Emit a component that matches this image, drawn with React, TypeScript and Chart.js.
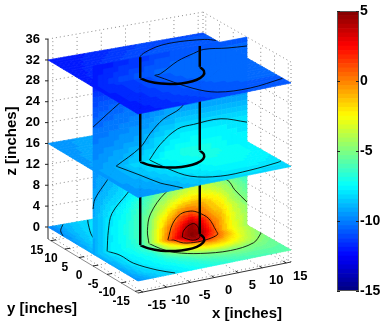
import React, { useEffect, useRef } from "react";
import { Chart, registerables } from "chart.js";

Chart.register(...registerables);

// ---------- data ----------
const xTicks = [-15, -10, -5, 0, 5, 10, 15];
const yTicks = [15, 10, 5, 0, -5, -10, -15];
const zTicks = [0, 4, 8, 12, 16, 20, 24, 28, 32, 36];
const colorTicks = [-15, -10, -5, 0, 5];
const xTitle = "x [inches]";
const yTitle = "y [inches]";
const zTitle = "z [inches]";

// grid coordinates of the sampled field (plane edges are at +-15 grid units = +-16 inches)
const fineX = [-15, -12, -9, -6, -4, -2, 0, 2, 4, 6, 8, 10, 12, 15];
const fineY = [15, 7.5, 0, -2, -4, -6, -9, -12, -15];
const fineZ = [0, 2, 4, 6, 8, 10, 12, 16, 20, 24, 28, 32, 36];
const coarseX = [-15, -10, -5, 0, 5, 10, 15];
const coarseY = [15, 7.5, 0, -5, -10, -15];

const planeZ0 = [
  [-9.9, -9, -8.4, -8.1, -7.9, -7.7, -7.5, -7.3, -7.2, -7.2, -7.3, -7.4, -7.5, -7.7],
  [-9.6, -8.6, -7.9, -7.2, -6.5, -5.5, -4.5, -3.5, -3, -3, -3.5, -4, -4.5, -5.3],
  [-9.2, -7.9, -7.4, -6.6, -5, -2.2, 0.9, 3.4, 4.9, 4.3, 1.7, -0.7, -2.6, -4.3],
  [-9.2, -8, -7.4, -6.6, -5.2, -3, -1, 2, 4.3, 2, 0.5, -1.2, -3, -4.5],
  [-9.2, -8.1, -7.5, -6.8, -5.3, -3.7, -2.9, -1.5, -0.5, -0.3, -1, -2.2, -3.5, -4.8],
  [-9.3, -8.1, -7.6, -7, -5.8, -4.7, -3.7, -2.8, -2.2, -2.1, -2.5, -3.2, -4, -5.1],
  [-9.4, -8.2, -7.7, -7.2, -6.8, -6.3, -5.6, -5.1, -4.8, -4.7, -4.7, -4.9, -5.1, -5.5],
  [-9.5, -8.5, -8, -7.6, -7.2, -6.9, -6.5, -6.2, -5.9, -5.7, -5.6, -5.6, -5.6, -5.7],
  [-9.7, -9, -8.3, -7.8, -7.5, -7.2, -7, -6.8, -6.6, -6.4, -6.2, -6.1, -6, -5.8],
];
const planeZ16 = [
  [-9.7, -9.4, -9.1, -8.8, -8.6, -8.6, -8.7],
  [-9.6, -9.1, -8.3, -7.8, -7.5, -7.6, -8],
  [-9.5, -8.9, -7.8, -7.3, -7, -7.2, -7.7],
  [-9.5, -8.9, -8.2, -7.6, -7.2, -7.3, -7.7],
  [-9.5, -9.2, -8.6, -8, -7.7, -7.7, -7.9],
  [-9.7, -9.5, -9, -8.6, -8.3, -8.3, -8.4],
];
const planeZ32 = [
  [-12.2, -12, -11.7, -11.4, -11.1, -11, -11],
  [-12.1, -11.7, -11.2, -10.8, -10.6, -10.5, -10.5],
  [-12, -11.5, -11, -10.6, -10.5, -10.5, -10.5],
  [-12, -11.6, -11.1, -10.7, -10.5, -10.5, -10.5],
  [-12.1, -11.7, -11.3, -10.9, -10.7, -10.6, -10.6],
  [-12.2, -11.9, -11.6, -11.3, -11, -10.9, -10.9],
];
const wallY0 = [
  [-9.2, -7.9, -7.4, -6.6, -5, -2.2, 0.9, 3.4, 4.9, 4.3, 1.7, -0.7, -2.6, -4.3],
  [-9.2, -8, -7.3, -6.2, -5, -2.4, 0.2, 2.3, 4.6, 3.2, 0.7, -1, -2.8, -4.4],
  [-9.1, -8, -7.2, -6.2, -5, -2.8, -1.1, 0.7, 1.5, 0.4, -0.9, -1.6, -3.2, -4.8],
  [-9.1, -8, -7.4, -6.3, -5.3, -3.8, -2.5, -1.5, -1, -1, -1.7, -2.6, -4.2, -5.5],
  [-9.2, -8.2, -7.7, -6.6, -5.9, -4.8, -4.1, -3.4, -2.9, -2.9, -3.3, -3.9, -4.7, -6],
  [-9.2, -8.6, -8.1, -7.2, -6.6, -5.9, -5.1, -4.6, -4.1, -4, -4.3, -5, -5.7, -6.7],
  [-9.4, -8.9, -8.3, -7.6, -7.1, -6.5, -5.9, -5.5, -5.1, -5.1, -5.3, -5.8, -6.4, -7.2],
  [-9.5, -9.2, -8.8, -8.3, -8, -7.7, -7.3, -7.1, -7, -7, -7.1, -7.3, -7.5, -7.7],
  [-9.9, -9.7, -9.4, -9.2, -8.9, -8.4, -8.1, -7.9, -7.8, -7.8, -7.8, -7.8, -7.9, -8],
  [-10.3, -10.2, -10, -9.8, -9.6, -9.4, -9.2, -9.2, -9.1, -9, -9, -9, -9, -9.1],
  [-10.9, -10.7, -10.5, -10.4, -10.3, -10.2, -10.1, -10.1, -10, -10, -10, -10, -10, -10.1],
  [-11.9, -11.5, -11.1, -10.8, -10.6, -10.5, -10.4, -10.3, -10.3, -10.3, -10.3, -10.3, -10.3, -10.3],
  [-12.2, -12, -11.7, -11.5, -11.3, -11.1, -11, -10.9, -10.8, -10.7, -10.7, -10.7, -10.7, -10.7],
];

// contour lines: [x, y] on the planes, [x, z] on the wall
const contoursZ0 = [
  [[-12.2, 0], [-11.3, -2.7], [-11.3, -7.1], [-9.5, -12], [-7.6, -14.8]],
  [[-12.2, 0], [-10.75, 7.5], [-8.2, 13.3], [-7.3, 15]],
  [[-12.1, 15], [-14, 12.5], [-15, 10]],
  [[-4.1, 0], [-3.7, -3.15], [-2.5, -6.07], [0.93, -8.6], [6.06, -9.9], [11.4, -8.5], [14.9, -4.9], [15, -4.5]],
  [[-0.4, 0], [0.4, -0.5], [1.1, -2.6], [3.4, -3.35], [5.76, -3], [8.3, -1.7], [9, 0]],
  [[2.4, 0], [2.9, -1.9], [3.7, -2.3], [4.9, -1.5], [5.8, 0]],
];
const contoursZ16 = [
  [[-10.5, 0], [-9.2, -5.8], [-8.2, -10.8], [-7.3, -12.5], [-6.1, -14.8]],
  [[-4, 0], [-3.5, -5.2], [-2.1, -10.4], [2.3, -13], [8.1, -13], [14.2, -12], [15, -11.6]],
];
const contoursZ32 = [
  [[-3, 0], [-0.6, -8.8], [2, -12.5], [7.8, -13.6], [14.9, -12.2], [15, -12]],
  [[-3, 0], [-1, 8.5], [3.1, 11.8], [7.8, 13], [13.6, 11.9], [15, 10.5]],
];
const contoursWallLow = [
  [[-12.25, 0], [-12, 4], [-11.3, 7.1], [-8.3, 10.4], [-6, 13], [-4, 16]],
  [[-15, 8.6], [-14.6, 10.5], [-12.25, 13.6], [-10.5, 16]],
  [[-4.1, 0], [-4.4, 2.5], [-3.8, 5.6], [-0.9, 9.1], [4, 11.5], [8, 11], [11.3, 9.2], [12.6, 7.2], [15, 4.4]],
  [[-0.4, 0], [0.5, 2.9], [2.06, 4.5], [4, 4.7], [5.4, 4.2], [7.55, 2.6], [9, 0]],
  [[2.4, 0], [2.6, 1.1], [3.4, 1.9], [4.6, 2.2], [5.4, 1.5], [5.8, 0]],
];
const contoursWallMid = [
  [[-4, 16], [-1.86, 18.6], [1.47, 20.9], [4.6, 21.2], [9.9, 21.3], [15, 19.7]],
  [[-10.5, 16], [-5.8, 18.7], [-3.8, 21.1], [-1.3, 23.3], [2.06, 24.8], [5, 28], [10, 31]],
  [[-15, 24.3], [-9.9, 27.9], [-5, 31], [-3, 32]],
];
const contoursWallTop = [
  [[-3, 32], [-1.86, 32.1], [1.47, 33.9], [4.6, 34.8], [6.6, 35.2], [11.3, 34.6], [15, 34.3]],
];
const thickArc = [
  [-5.8, 0], [-5.4, -2.1], [-4.1, -4.1], [-2.1, -5.4], [0, -5.8],
  [2.1, -5.4], [4.1, -4.1], [5.4, -2.1], [5.8, 0],
];
const thickWallX = [-5.8, 5.8];

// ---------- helpers ----------
const GRID_PER_INCH = 15 / 16;
const EDGE = 15;
const FLOOR = -2.3;
const TOP = 36;
const C_MIN = -15;
const C_MAX = 5;
const LEVELS = 64;

function project(x: number, y: number, z: number) {
  const X = (x + EDGE) / 30;
  const Y = (y + EDGE) / 30;
  return {
    x: 5.1 * x - 3 * y + 169.5 + 2 * X * Y,
    y: -1.033 * x - 1.8 * y - 5.22 * z + 238.5 + 4 * X * Y,
  };
}
const clamp01 = (v: number) => Math.max(0, Math.min(1, v));
function jet(level: number) {
  const t = (level + 0.5) / LEVELS;
  const c = (k: number) => Math.round(255 * clamp01(1.5 - Math.abs(4 * t - k)));
  return `rgb(${c(3)},${c(2)},${c(1)})`;
}
function levelOf(v: number) {
  return Math.max(0, Math.min(LEVELS - 1, Math.floor(((v - C_MIN) / (C_MAX - C_MIN)) * LEVELS)));
}
function locate(nodes: number[], v: number) {
  const asc = nodes[0] < nodes[nodes.length - 1];
  for (let i = 0; i < nodes.length - 1; i++) {
    const a = nodes[i];
    const b = nodes[i + 1];
    if (asc ? v <= b : v >= b) return { i, f: (v - a) / (b - a) };
  }
  return { i: nodes.length - 2, f: 1 };
}
function sample(table: number[][], cols: number[], rows: number[], c: number, r: number) {
  const p = locate(cols, c);
  const q = locate(rows, r);
  const t0 = table[q.i][p.i] * (1 - p.f) + table[q.i][p.i + 1] * p.f;
  const t1 = table[q.i + 1][p.i] * (1 - p.f) + table[q.i + 1][p.i + 1] * p.f;
  return t0 * (1 - q.f) + t1 * q.f;
}

const GAP = { x: NaN, y: NaN };
const base = {
  showLine: true,
  pointRadius: 0,
  pointHoverRadius: 0,
  clip: false,
  tension: 0,
  borderDash: [9999, 0],
};

function polyline(pts: { x: number; y: number }[], color: string, width: number, dash?: number[], tension = 0) {
  return { ...base, data: pts, borderColor: color, borderWidth: width, fill: false, borderDash: dash || [9999, 0], tension };
}

// filled patch: cells are grouped by colour level, one dataset per level
function patch(
  table: number[][],
  cols: number[],
  rows: number[],
  aFrom: number,
  aTo: number,
  bFrom: number,
  bTo: number,
  step: number,
  to3d: (a: number, b: number) => [number, number, number],
) {
  const groups = new Map<number, { x: number; y: number }[]>();
  const na = Math.round((aTo - aFrom) / step);
  const nb = Math.round((bTo - bFrom) / step);
  for (let i = 0; i < na; i++) {
    for (let j = 0; j < nb; j++) {
      const a0 = aFrom + i * step;
      const a1 = a0 + step;
      const b0 = bFrom + j * step;
      const b1 = b0 + step;
      const lvl = levelOf(sample(table, cols, rows, (a0 + a1) / 2, (b0 + b1) / 2));
      if (!groups.has(lvl)) groups.set(lvl, []);
      const g = groups.get(lvl)!;
      const corner = (a: number, b: number) => project(...to3d(a, b));
      g.push(corner(a0, b0), corner(a1, b0), corner(a1, b1), corner(a0, b1), corner(a0, b0), GAP);
    }
  }
  return [...groups.entries()].map(([lvl, pts]) => ({
    ...base,
    data: pts,
    fill: "shape",
    backgroundColor: jet(lvl),
    borderColor: jet(lvl),
    borderWidth: 0.7,
  }));
}

function buildDatasets() {
  const ds: any[] = [];
  const GRID = "#8a8a8a";
  const dots = [1, 3];

  // walls and floor grid
  const tickX = xTicks.map((t) => t * GRID_PER_INCH);
  const tickY = yTicks.map((t) => t * GRID_PER_INCH);
  const grid: { x: number; y: number }[] = [];
  const seg = (a: [number, number, number], b: [number, number, number]) => {
    grid.push(project(...a), project(...b), GAP);
  };
  zTicks.forEach((z) => {
    seg([-EDGE, EDGE, z], [EDGE, EDGE, z]);
    seg([EDGE, EDGE, z], [EDGE, -EDGE, z]);
  });
  tickX.forEach((x) => {
    seg([x, EDGE, FLOOR], [x, EDGE, TOP]);
    seg([x, EDGE, FLOOR], [x, -EDGE, FLOOR]);
  });
  tickY.forEach((y) => {
    seg([EDGE, y, FLOOR], [EDGE, y, TOP]);
    seg([-EDGE, y, FLOOR], [EDGE, y, FLOOR]);
  });
  seg([EDGE, EDGE, FLOOR], [EDGE, EDGE, TOP]);
  seg([EDGE, -EDGE, FLOOR], [EDGE, -EDGE, TOP]);
  seg([-EDGE, EDGE, FLOOR], [EDGE, EDGE, FLOOR]);
  seg([EDGE, EDGE, FLOOR], [EDGE, -EDGE, FLOOR]);
  ds.push(polyline(grid, GRID, 1, dots));

  // axes
  ds.push(polyline([project(-EDGE, EDGE, FLOOR), project(-EDGE, EDGE, TOP)], "#6e6e6e", 1.5));
  ds.push(polyline([project(-EDGE, EDGE, FLOOR), project(-EDGE, -EDGE, FLOOR)], "#8a8a8a", 1));
  ds.push(polyline([project(-EDGE, -EDGE, FLOOR), project(EDGE, -EDGE, FLOOR)], "#333333", 1));
  const marks: { x: number; y: number }[] = [];
  zTicks.forEach((z) => {
    const p = project(-EDGE, EDGE, z);
    marks.push({ x: p.x - 3, y: p.y }, p, GAP);
  });
  tickX.forEach((x) => {
    marks.push(project(x, -EDGE, FLOOR), project(x, -EDGE + 1, FLOOR), GAP);
  });
  tickY.forEach((y) => {
    marks.push(project(-EDGE, y, FLOOR), project(-EDGE + 1, y, FLOOR), GAP);
  });
  ds.push(polyline(marks, "#222222", 1));

  const INK = "rgba(0,0,0,0.82)";
  const SMOOTH = 0.35;
  const planeLines = (list: number[][][], z: number) =>
    list.forEach((c) => ds.push(polyline(c.map(([x, y]) => project(x, y, z)), INK, 1, undefined, SMOOTH)));
  const wallLines = (list: number[][][]) =>
    list.forEach((c) => ds.push(polyline(c.map(([x, z]) => project(x, 0, z)), INK, 1, undefined, SMOOTH)));
  const thickPlane = (z: number) =>
    ds.push(polyline(thickArc.map(([x, y]) => project(x, y, z)), "#000000", 2.5, undefined, SMOOTH));
  const thickWall = (z0: number, z1: number) =>
    thickWallX.forEach((x) => ds.push(polyline([project(x, 0, z0), project(x, 0, z1)], "#000000", 2.5)));

  const horiz = (z: number) => (a: number, b: number): [number, number, number] => [a, b, z];
  const wall = (a: number, b: number): [number, number, number] => [a, 0, b];

  // painter's order, bottom to top
  ds.push(...patch(planeZ0, fineX, fineY, -EDGE, EDGE, -EDGE, EDGE, 0.5, horiz(0)));
  planeLines(contoursZ0, 0);
  thickPlane(0);

  ds.push(...patch(wallY0, fineX, fineZ, -EDGE, EDGE, 0, 16, 0.5, wall));
  wallLines(contoursWallLow);
  thickWall(0, 16);

  ds.push(...patch(planeZ16, coarseX, coarseY, -EDGE, EDGE, -EDGE, EDGE, 1, horiz(16)));
  planeLines(contoursZ16, 16);
  thickPlane(16);

  ds.push(...patch(wallY0, fineX, fineZ, -EDGE, EDGE, 16, 32, 1, wall));
  wallLines(contoursWallMid);
  thickWall(16, 32);

  ds.push(...patch(planeZ32, coarseX, coarseY, -EDGE, EDGE, -EDGE, EDGE, 1, horiz(32)));
  planeLines(contoursZ32, 32);
  thickPlane(32);

  ds.push(...patch(wallY0, fineX, fineZ, -EDGE, EDGE, 32, 36, 1, wall));
  wallLines(contoursWallTop);
  thickWall(32, 36);

  ds.forEach((d, i) => (d.order = -i));
  return ds;
}

const axisText = {
  id: "axisText",
  afterDraw(chart: any) {
    const { ctx, scales } = chart;
    const px = (p: { x: number; y: number }) => ({
      x: scales.x.getPixelForValue(p.x),
      y: scales.y.getPixelForValue(p.y),
    });
    ctx.save();
    ctx.fillStyle = "#000";
    ctx.textBaseline = "middle";
    ctx.font = 'bold 13px "Liberation Sans"';
    ctx.textAlign = "right";
    zTicks.forEach((z) => {
      const p = px(project(-EDGE, EDGE, z));
      ctx.fillText(String(z), p.x - 8, p.y);
    });
    ctx.textAlign = "center";
    xTicks.forEach((t) => {
      const p = px(project(t * GRID_PER_INCH, -EDGE, FLOOR));
      ctx.fillText(String(t), p.x + 14, p.y + 13);
    });
    ctx.font = 'bold 12px "Liberation Sans"';
    yTicks.forEach((t) => {
      const p = px(project(-EDGE, t * GRID_PER_INCH, FLOOR));
      ctx.fillText(String(t), p.x - 14, p.y + 10);
    });
    ctx.font = 'bold 15px "Liberation Sans"';
    ctx.fillText(xTitle, scales.x.getPixelForValue(247), scales.y.getPixelForValue(314));
    ctx.fillText(yTitle, scales.x.getPixelForValue(42), scales.y.getPixelForValue(309));
    ctx.translate(scales.x.getPixelForValue(12), scales.y.getPixelForValue(141));
    ctx.rotate(-Math.PI / 2);
    ctx.fillText(zTitle, 0, 0);
    ctx.restore();
  },
};

const barTicks = {
  id: "barTicks",
  afterDraw(chart: any) {
    const { ctx, chartArea: a, scales } = chart;
    ctx.save();
    ctx.strokeStyle = "#555";
    ctx.lineWidth = 1;
    ctx.strokeRect(a.left + 0.5, a.top + 0.5, a.right - a.left - 1, a.bottom - a.top - 1);
    ctx.strokeStyle = "#222";
    colorTicks.forEach((t) => {
      const y = Math.round(scales.y.getPixelForValue(t)) + 0.5;
      ctx.beginPath();
      ctx.moveTo(a.left, y);
      ctx.lineTo(a.left + 3, y);
      ctx.moveTo(a.right - 3, y);
      ctx.lineTo(a.right, y);
      ctx.stroke();
    });
    ctx.restore();
  },
};

export default function App() {
  const mainRef = useRef<HTMLCanvasElement>(null);
  const barRef = useRef<HTMLCanvasElement>(null);

  useEffect(() => {
    const main = new Chart(mainRef.current!, {
      type: "scatter",
      data: { datasets: buildDatasets() },
      plugins: [axisText],
      options: {
        animation: false,
        responsive: false,
        events: [],
        layout: { padding: 0 },
        plugins: { legend: { display: false }, tooltip: { enabled: false } },
        scales: {
          x: { type: "linear", display: false, min: 0, max: 387 },
          y: { type: "linear", display: false, min: 0, max: 332, reverse: true },
        },
      },
    } as any);

    const bands = Array.from({ length: LEVELS }, (_, i) => ({
      data: [[C_MIN + ((C_MAX - C_MIN) * i) / LEVELS, C_MIN + ((C_MAX - C_MIN) * (i + 1)) / LEVELS]],
      backgroundColor: jet(i),
      borderWidth: 0,
      barPercentage: 1,
      categoryPercentage: 1,
      grouped: false,
    }));
    const bar = new Chart(barRef.current!, {
      type: "bar",
      data: { labels: [""], datasets: bands },
      plugins: [barTicks],
      options: {
        animation: false,
        responsive: false,
        events: [],
        layout: { padding: { top: 11, bottom: 41, left: 7, right: 0 } },
        plugins: { legend: { display: false }, tooltip: { enabled: false } },
        scales: {
          x: { display: false, stacked: false },
          y: {
            position: "right",
            min: C_MIN,
            max: C_MAX,
            afterFit: (s: any) => {
              s.width = 28;
            },
            afterBuildTicks: (s: any) => {
              s.ticks = colorTicks.map((value) => ({ value }));
            },
            border: { display: false },
            grid: { display: false, drawTicks: false, tickLength: 0 },
            ticks: {
              padding: 1,
              color: "#000",
              font: { family: '"Liberation Sans"', size: 14, weight: "bold" },
            },
          },
        },
      },
    } as any);

    return () => {
      main.destroy();
      bar.destroy();
    };
  }, []);

  return (
    <div style={{ position: "fixed", left: 0, top: 0, width: 387, height: 332, background: "#fff" }}>
      <canvas ref={mainRef} width={387} height={332} style={{ position: "absolute", left: 0, top: 0 }} />
      <canvas ref={barRef} width={57} height={332} style={{ position: "absolute", left: 330, top: 0 }} />
    </div>
  );
}
